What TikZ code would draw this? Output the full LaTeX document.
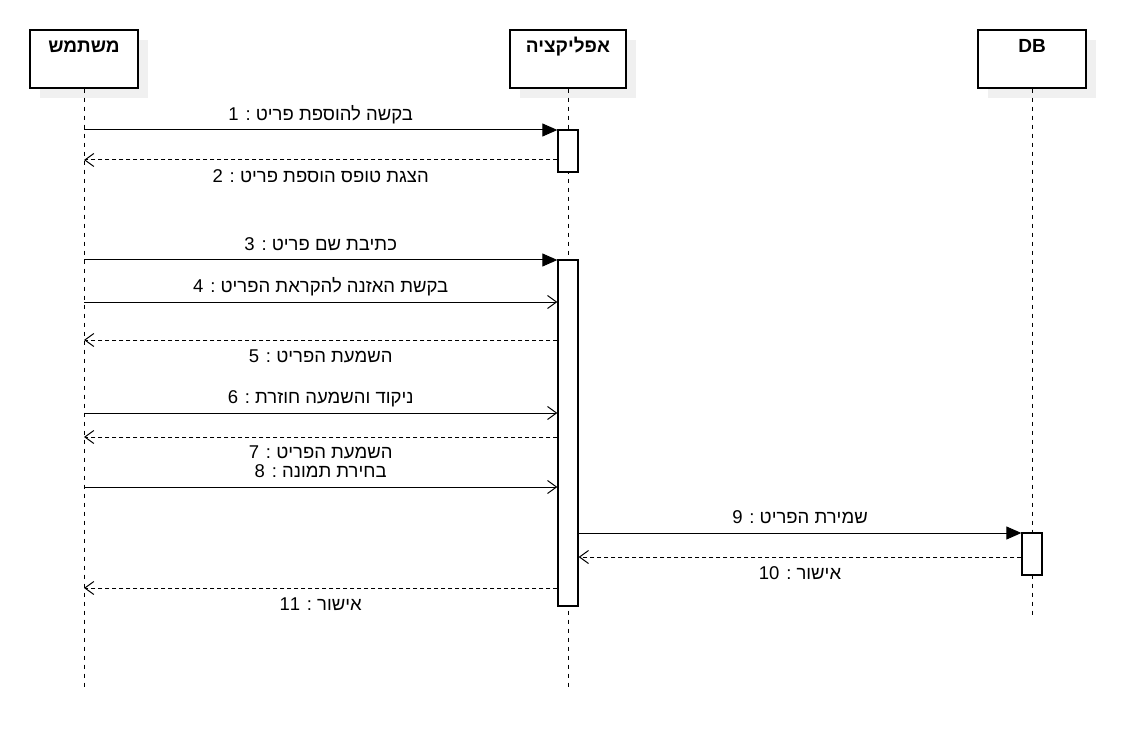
\documentclass[tikz,border=0pt]{standalone}
\usepackage{fontspec}
\setmainfont{Liberation Sans}
\newfontfamily\hebfont[Script=Hebrew]{Liberation Sans}
\TeXXeTstate=1
\usetikzlibrary{arrows.meta,positioning,shadows}
\newcommand{\hebtxt}[1]{{\hebfont\beginR #1\endR}}

\begin{document}
\begin{tikzpicture}[x=1pt, y=-1pt, line width=1pt]
  % Styles
  \tikzstyle{head}=[draw, fill=white, line width=1.3pt, minimum width=108pt, inner ysep=6pt, text height=17pt, text depth=29pt, font=\fontsize{19}{22}\selectfont\bfseries, drop shadow={shadow xshift=10pt, shadow yshift=-10pt, fill=black!6, opacity=1}]
  \tikzstyle{act}=[draw, fill=white, line width=1.3pt, minimum width=20pt, inner sep=0pt]
  \tikzstyle{life}=[line width=0.9pt, dash pattern=on 4.5pt off 4.5pt]
  \tikzstyle{call}=[-{Triangle[length=15pt, width=13pt]}]
  \tikzstyle{msg}=[-{Straight Barb[length=9pt, width=13pt]}]
  \tikzstyle{ret}=[msg, dash pattern=on 4pt off 3pt]
  \tikzstyle{lbl}=[font=\fontsize{18.5}{22}\selectfont, inner sep=0pt, text height=13pt, text depth=3pt]

  \useasboundingbox (0,0) rectangle (1129,735);

  % Lifeline heads
  \node[head] (user) at (84,59) {\hebtxt{משתמש}};
  \node[head, minimum width=116pt] (app) at (568,59) {\hebtxt{אפליקציה}};
  \node[head] (db) at (1032,59) {DB};

  % Lifelines
  \coordinate (userEnd) at (84,690);
  \coordinate (appEnd) at (568,690);
  \coordinate (dbEnd) at (1032,615);
  \draw[life] (user) -- (userEnd);
  \draw[life] (app) -- (appEnd);
  \draw[life] (db) -- (dbEnd);

  % Activations
  \node[act, minimum height=42pt] (act1) at (568,151) {};
  \node[act, minimum height=346pt] (act2) at (568,433) {};
  \node[act, minimum height=42pt] (act3) at (1032,554) {};

  % Message levels
  \coordinate (y1) at (0,130);
  \coordinate (y2) at (0,160);
  \coordinate (y3) at (0,260);
  \coordinate (y4) at (0,302);
  \coordinate (y5) at (0,340);
  \coordinate (y6) at (0,413);
  \coordinate (y7) at (0,437);
  \coordinate (y8) at (0,487);
  \coordinate (y9) at (0,533);
  \coordinate (y10) at (0,557);
  \coordinate (y11) at (0,588);

  % Messages
  \draw[call] (user |- y1) -- node[lbl, above=6pt] {\hebtxt{בקשה להוספת פריט : 1}} (act1.west |- y1);
  \draw[ret] (act1.west |- y2) -- node[lbl, below=9pt] {\hebtxt{הצגת טופס הוספת פריט : 2}} (user |- y2);
  \draw[call] (user |- y3) -- node[lbl, above=6pt] {\hebtxt{כתיבת שם פריט : 3}} (act2.west |- y3);
  \draw[msg] (user |- y4) -- node[lbl, above=6pt] {\hebtxt{בקשת האזנה להקראת הפריט : 4}} (act2.west |- y4);
  \draw[ret] (act2.west |- y5) -- node[lbl, below=9pt] {\hebtxt{השמעת הפריט : 5}} (user |- y5);
  \draw[msg] (user |- y6) -- node[lbl, above=6pt] {\hebtxt{ניקוד והשמעה חוזרת : 6}} (act2.west |- y6);
  \draw[ret] (act2.west |- y7) -- node[lbl, below=8pt] {\hebtxt{השמעת הפריט : 7}} (user |- y7);
  \draw[msg] (user |- y8) -- node[lbl, above=6pt] {\hebtxt{בחירת תמונה : 8}} (act2.west |- y8);
  \draw[call] (act2.east |- y9) -- node[lbl, above=6pt] {\hebtxt{שמירת הפריט : 9}} (act3.west |- y9);
  \draw[ret] (act3.west |- y10) -- node[lbl, below=9pt] {\hebtxt{אישור : 10}} (act2.east |- y10);
  \draw[ret] (act2.west |- y11) -- node[lbl, below=9pt] {\hebtxt{אישור : 11}} (user |- y11);
\end{tikzpicture}
\end{document}
